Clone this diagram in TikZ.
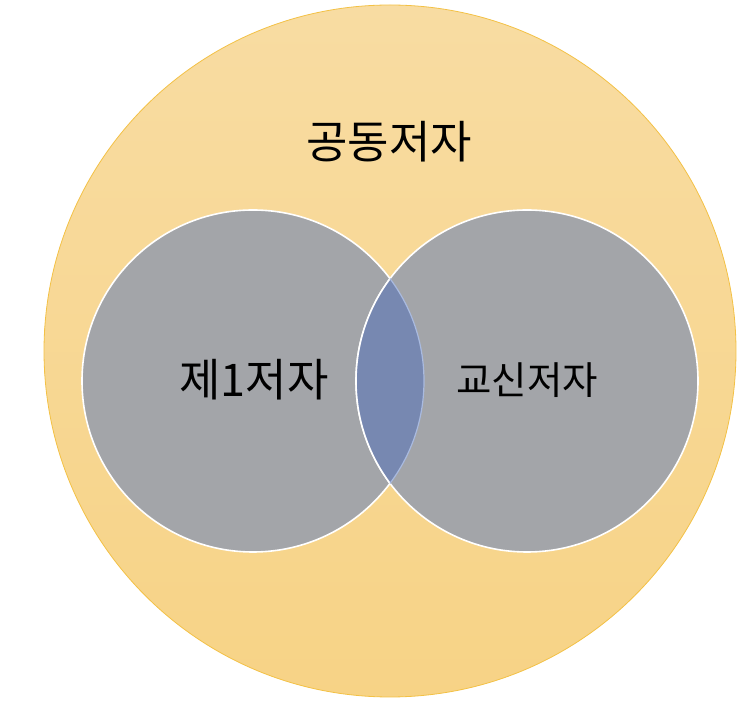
\documentclass[tikz,border=0pt]{standalone}
\usepackage{fontspec}
\newfontfamily\kr{Noto Sans CJK KR}
\definecolor{outerTop}{HTML}{F8DCA2}
\definecolor{outerBot}{HTML}{F7D386}
\definecolor{outerEdge}{HTML}{F3C145}
\definecolor{setGray}{HTML}{A3A5A9}
\definecolor{lensBlue}{HTML}{7788B1}
\definecolor{lensEdge}{HTML}{A9BADF}
\tikzset{
  outer/.style={top color=outerTop, bottom color=outerBot, draw=outerEdge, line width=0.8pt},
  setdisk/.style={fill=setGray, draw=white, line width=1.6pt},
  lbl/.style={font=\kr, text=black, inner sep=0pt}
}
\begin{document}
\begin{tikzpicture}[x=1pt,y=1pt]
\useasboundingbox (0,0) rectangle (750,704);
\path[outer] (390,353) circle (346);
\path[setdisk] (253,323) circle (171);
\path[setdisk] (527,323) circle (171);
\begin{scope}
  \clip (253,323) circle (171);
  \fill[lensBlue] (527,323) circle (171);
  \draw[white, line width=1.6pt] (527,323) circle (171);
\end{scope}
\begin{scope}
  \clip (527,323) circle (171);
  \draw[lensEdge, line width=1.2pt] (253,323) circle (171);
\end{scope}
\node[lbl, font=\kr\fontsize{45}{45}\selectfont] (co) at (389,562) {공동저자};
\node[lbl, font=\kr\fontsize{45}{45}\selectfont] (first) at (254,324) {제1저자};
\node[lbl, font=\kr\fontsize{38.5}{38.5}\selectfont] (corr) at (527,324) {교신저자};
\end{tikzpicture}
\end{document}
